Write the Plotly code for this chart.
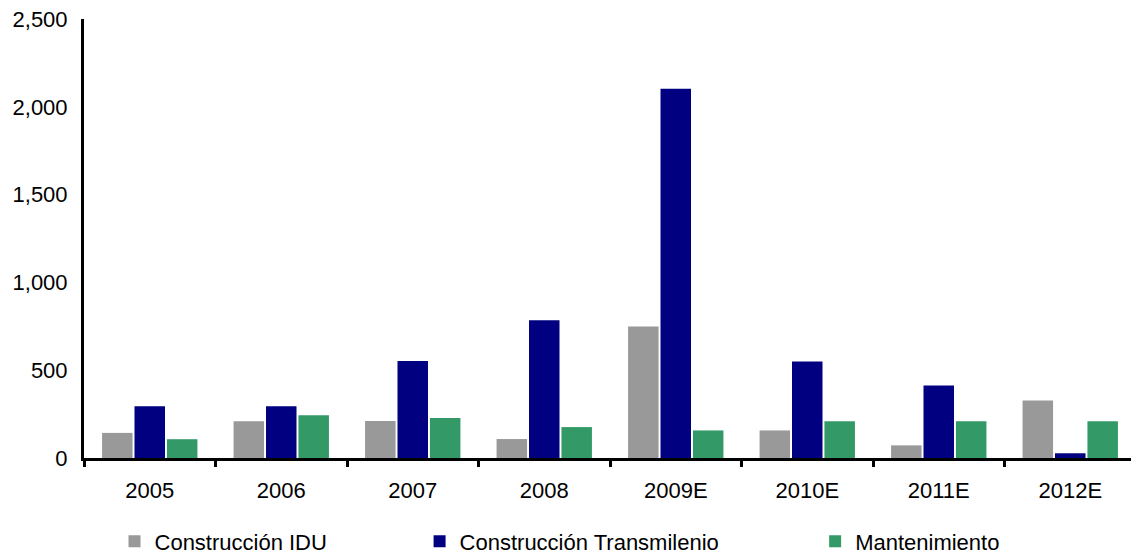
import plotly.graph_objects as go

years = ["2005", "2006", "2007", "2008", "2009E", "2010E", "2011E", "2012E"]
idu = [143, 209, 210, 108, 749, 157, 72, 328]
transmilenio = [294, 294, 552, 785, 2103, 550, 413, 27]
mantenimiento = [107, 244, 228, 176, 157, 209, 209, 209]

# name, values, colour, legend id, legend x (paper)
series = [
    ("Construcción IDU", idu, "#999999", "legend", 0.029),
    ("Construcción Transmilenio", transmilenio, "#000080", "legend2", 0.319),
    ("Mantenimiento", mantenimiento, "#339966", "legend3", 0.695),
]

fig = go.Figure()
for name, vals, color, leg, _ in series:
    fig.add_trace(go.Bar(x=years, y=vals, name=name, marker_color=color,
                         marker_line_width=0, legend=leg, showlegend=True))

font = dict(family="Liberation Sans, Arial, sans-serif", size=22, color="black")
leg_common = dict(orientation="h", yanchor="middle", y=-0.19, xanchor="left",
                  font=font, bgcolor="rgba(0,0,0,0)", itemwidth=30, visible=True)

# page body has an 8px margin, so the figure is a bit smaller than the window
fig.update_layout(
    width=1131, height=547,
    margin=dict(l=76, r=3, t=11, b=97, autoexpand=False),
    paper_bgcolor="white", plot_bgcolor="white",
    font=font, showlegend=True,
    barmode="group", bargap=0.26, bargroupgap=0.06,
    legend=dict(leg_common, x=series[0][4]),
    legend2=dict(leg_common, x=series[1][4]),
    legend3=dict(leg_common, x=series[2][4]),
)
fig.update_xaxes(showline=True, linecolor="black", linewidth=3,
                 ticks="outside", tickson="boundaries", ticklen=6,
                 tickwidth=3, tickcolor="black", showgrid=False, automargin=False,
                 ticklabelstandoff=11)
fig.update_yaxes(range=[0, 2500], tickvals=[0, 500, 1000, 1500, 2000, 2500],
                 tickformat=",", showline=True, linecolor="black", linewidth=3,
                 showgrid=False, zeroline=False, ticks="", ticklabelstandoff=9,
                 automargin=False, ticklabeloverflow="allow")

fig.write_html("out.html")
